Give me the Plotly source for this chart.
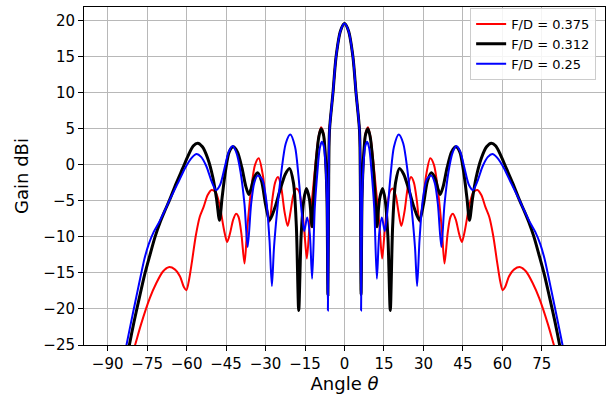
import plotly.graph_objects as go

# ---------------- data ----------------
theta_375 = [-85.0, -82.0, -79.5, -77.3, -74.0, -71.5, -69.0, -66.8, -64.5, -62.5, -61.0, -60.1, -59.2, -58.0,
             -56.5, -55.0, -53.5, -52.0, -50.5, -49.0, -47.5, -45.8, -44.6, -43.5, -42.3, -41.2, -40.3, -39.2,
             -38.0, -37.0, -35.5, -34.0, -32.6, -31.0, -29.7, -28.5, -27.5, -26.4, -25.3, -24.2, -22.8, -21.6,
             -20.5, -19.5, -18.4, -17.4, -16.3, -15.2, -14.3, -13.3, -12.0, -10.8, -9.8, -8.9, -8.0, -7.4,
             -6.7, -6.3, -6.0, -5.7, -4.4, -3.2, -1.5, 0.0,
             1.5, 3.2, 4.4, 5.7, 6.0, 6.3, 6.7, 7.4, 8.0, 8.9, 9.8, 10.8, 12.0, 13.3, 14.3, 15.2, 16.3, 17.4,
             18.4, 19.5, 20.5, 21.6, 22.8, 24.2, 25.3, 26.4, 27.5, 28.5, 29.7, 31.0, 32.6, 34.0, 35.5, 37.0,
             38.0, 39.2, 40.3, 41.2, 42.3, 43.5, 44.6, 45.8, 47.5, 49.0, 50.5, 52.0, 53.5, 55.0, 56.5, 58.0,
             59.2, 60.1, 61.0, 62.5, 64.5, 66.8, 69.0, 71.5, 74.0, 77.3, 79.5, 82.0, 85.0]
gain_375 = [-33.0, -28.0, -24.9, -22.1, -18.5, -16.4, -14.8, -14.2, -14.5, -15.5, -17.0, -17.4, -16.2, -13.5,
            -9.8, -7.2, -5.8, -4.2, -3.5, -3.8, -5.5, -9.0, -10.7, -9.5, -7.6, -6.8, -7.2, -9.5,
            -13.7, -9.0, -3.5, 0.0, 0.9, -1.5, -5.5, -7.9, -5.0, -2.5, -1.7, -2.8, -6.5, -8.5,
            -6.5, -4.3, -3.3, -3.6, -5.5, -9.5, -13.0, -8.5, -3.5, 1.0, 4.0, 5.2, 4.4, 2.2,
            -4.0, -18.0, -1.5, 4.8, 9.9, 15.0, 18.6, 19.6,
            18.6, 15.0, 9.9, 4.8, -1.5, -18.0, -4.0, 2.2, 4.4, 5.2, 4.0, 1.0, -3.5, -8.5, -13.0, -9.5, -5.5, -3.6,
            -3.3, -4.3, -6.5, -8.5, -6.5, -2.8, -1.7, -2.5, -5.0, -7.9, -5.5, -1.5, 0.9, 0.0, -3.5, -9.0,
            -13.7, -9.5, -7.2, -6.8, -7.6, -9.5, -10.7, -9.0, -5.5, -3.8, -3.5, -4.2, -5.8, -7.2, -9.8, -13.5,
            -16.2, -17.4, -17.0, -15.5, -14.5, -14.2, -14.8, -16.4, -18.5, -22.1, -24.9, -28.0, -33.0]

theta_312 = [-84.0, -81.7, -80.0, -78.0, -76.0, -74.0, -72.0, -70.0, -68.3, -66.5, -64.0, -61.5, -59.5, -57.5,
             -55.8, -54.0, -52.0, -50.0, -48.6, -47.5, -46.5, -45.2, -43.8, -42.3, -40.7, -39.0, -37.5, -36.4,
             -35.5, -34.5, -33.0, -31.5, -30.0, -28.5, -26.5, -24.5, -22.5, -20.9, -19.4, -18.3, -17.4, -16.5,
             -15.5, -14.5, -13.3, -12.3, -11.6, -10.8, -9.8, -8.9, -8.0, -7.4, -6.7, -6.3, -6.0, -5.7,
             -4.4, -3.2, -1.5, 0.0,
             1.5, 3.2, 4.4, 5.7, 6.0, 6.3, 6.7, 7.4, 8.0, 8.9, 9.8, 10.8, 11.6, 12.3, 13.3, 14.5, 15.5, 16.5,
             17.4, 18.3, 19.4, 20.9, 22.5, 24.5, 26.5, 28.5, 30.0, 31.5, 33.0, 34.5, 35.5, 36.4, 37.5, 39.0,
             40.7, 42.3, 43.8, 45.2, 46.5, 47.5, 48.6, 50.0, 52.0, 54.0, 55.8, 57.5, 59.5, 61.5, 64.0, 66.5,
             68.3, 70.0, 72.0, 74.0, 76.0, 78.0, 80.0, 81.7, 84.0]
gain_312 = [-29.5, -24.9, -21.8, -18.5, -15.3, -12.6, -10.0, -7.9, -6.4, -4.9, -2.6, -0.5, 1.2, 2.6,
            3.0, 2.5, 0.9, -1.8, -4.8, -7.7, -4.5, -0.8, 1.8, 2.5, 1.8, -0.4, -3.0, -4.1,
            -3.3, -1.9, -1.1, -2.3, -5.5, -7.7, -6.0, -3.5, -1.3, -0.5, -2.5, -8.5, -20.2, -10.0,
            -5.0, -3.3, -4.8, -8.6, -4.0, 0.3, 3.8, 5.0, 4.2, 2.0, -4.0, -18.0, -1.5, 4.8,
            9.9, 15.0, 18.6, 19.6,
            18.6, 15.0, 9.9, 4.8, -1.5, -18.0, -4.0, 2.0, 4.2, 5.0, 3.8, 0.3, -4.0, -8.6, -4.8, -3.3, -5.0, -10.0,
            -20.2, -8.5, -2.5, -0.5, -1.3, -3.5, -6.0, -7.7, -5.5, -2.3, -1.1, -1.9, -3.3, -4.1, -3.0, -0.4,
            1.8, 2.5, 1.8, -0.8, -4.5, -7.7, -4.8, -1.8, 0.9, 2.5, 3.0, 2.6, 1.2, -0.5, -2.6, -4.9,
            -6.4, -7.9, -10.0, -12.6, -15.3, -18.5, -21.8, -24.9, -29.5]

theta_250 = [-85.0, -82.8, -81.2, -79.5, -77.5, -76.0, -74.4, -72.5, -70.5, -68.5, -66.5, -63.0, -60.5, -58.0,
             -56.2, -54.5, -52.5, -50.5, -48.8, -47.3, -45.5, -44.0, -42.5, -41.0, -39.5, -38.0, -36.8, -35.5,
             -34.3, -33.0, -31.3, -29.7, -28.5, -27.6, -26.8, -25.5, -24.0, -22.3, -20.6, -18.8, -17.5, -16.3,
             -15.3, -14.2, -13.2, -12.3, -11.3, -10.3, -9.4, -8.6, -7.9, -7.3, -6.7, -6.3, -6.0, -5.7,
             -4.4, -3.2, -1.5, 0.0,
             1.5, 3.2, 4.4, 5.7, 6.0, 6.3, 6.7, 7.3, 7.9, 8.6, 9.4, 10.3, 11.3, 12.3, 13.2, 14.2, 15.3, 16.3,
             17.5, 18.8, 20.6, 22.3, 24.0, 25.5, 26.8, 27.6, 28.5, 29.7, 31.3, 33.0, 34.3, 35.5, 36.8, 38.0,
             39.5, 41.0, 42.5, 44.0, 45.5, 47.3, 48.8, 50.5, 52.5, 54.5, 56.2, 58.0, 60.5, 63.0, 66.5, 68.5,
             70.5, 72.5, 74.4, 76.0, 77.5, 79.5, 81.2, 82.8, 85.0]
gain_250 = [-29.0, -24.9, -22.0, -19.0, -15.5, -13.0, -11.0, -9.3, -8.0, -6.5, -4.9, -2.3, -0.4, 1.0,
            1.5, 1.1, -0.2, -2.3, -3.5, -2.8, -0.3, 1.8, 2.6, 1.6, -1.0, -5.5, -11.4, -5.5,
            -2.5, -1.5, -2.0, -5.0, -10.5, -16.8, -11.5, -6.0, -1.0, 3.0, 4.2, 2.5, -1.5, -6.5,
            -9.2, -7.3, -9.5, -15.8, -6.0, -1.0, 2.3, 3.2, 2.6, 0.5, -5.0, -20.2, -2.0, 4.8,
            9.9, 15.0, 18.6, 19.6,
            18.6, 15.0, 9.9, 4.8, -2.0, -20.2, -5.0, 0.5, 2.6, 3.2, 2.3, -1.0, -6.0, -15.8, -9.5, -7.3, -9.2, -6.5,
            -1.5, 2.5, 4.2, 3.0, -1.0, -6.0, -11.5, -16.8, -10.5, -5.0, -2.0, -1.5, -2.5, -5.5, -11.4, -5.5,
            -1.0, 1.6, 2.6, 1.8, -0.3, -2.8, -3.5, -2.3, -0.2, 1.1, 1.5, 1.0, -0.4, -2.3, -4.9, -6.5,
            -8.0, -9.3, -11.0, -13.0, -15.5, -19.0, -22.0, -24.9, -29.0]

x_ticks = [-90, -75, -60, -45, -30, -15, 0, 15, 30, 45, 60, 75]
x_tick_labels = ["\u221290", "\u221275", "\u221260", "\u221245", "\u221230", "\u221215",
                 "0", "15", "30", "45", "60", "75"]
y_ticks = [-25, -20, -15, -10, -5, 0, 5, 10, 15, 20]
y_tick_labels = ["\u221225", "\u221220", "\u221215", "\u221210", "\u22125", "0", "5", "10", "15", "20"]

series = [
    ("F/D = 0.375", theta_375, gain_375, "#ff0000", 2),
    ("F/D = 0.312", theta_312, gain_312, "#000000", 3),
    ("F/D = 0.25", theta_250, gain_250, "#0000ff", 2),
]

FONT = "DejaVu Sans"
fig = go.Figure()
for name, th, g, col, w in series:
    fig.add_trace(go.Scatter(x=th, y=g, mode="lines", name=name,
                             line=dict(color=col, width=w, shape="spline", smoothing=0.8)))

axis_common = dict(showline=True, mirror=True, linecolor="black", linewidth=1,
                   showgrid=True, gridcolor="#b8b8b8", gridwidth=1, zeroline=False,
                   ticks="outside", ticklen=5, tickcolor="black", tickwidth=1, automargin=False,
                   tickfont=dict(family=FONT, size=15, color="black"))

fig.update_layout(
    width=612, height=398,
    margin=dict(l=84, r=7, t=7, b=53),
    paper_bgcolor="white", plot_bgcolor="white",
    font=dict(family=FONT, color="black"),
    showlegend=True,
    legend=dict(x=0.983, y=0.997, xanchor="right", yanchor="top",
                bgcolor="rgba(255,255,255,0.85)", bordercolor="#cccccc", borderwidth=1,
                font=dict(family=FONT, size=13, color="black"), tracegroupgap=0),
    xaxis=dict(range=[-99, 99], tickmode="array", tickvals=x_ticks, ticktext=x_tick_labels,
               title=dict(text="Angle <i>\u03b8</i>", font=dict(family=FONT, size=18), standoff=4),
               **axis_common),
    yaxis=dict(range=[-25, 21.9], tickmode="array", tickvals=y_ticks, ticktext=y_tick_labels,
               title=dict(text="Gain dBi", font=dict(family=FONT, size=18), standoff=10),
               **axis_common),
)

fig.write_html("out.html", config={"displayModeBar": False},
               post_script="document.body.style.margin='0';document.body.style.overflow='hidden';")
